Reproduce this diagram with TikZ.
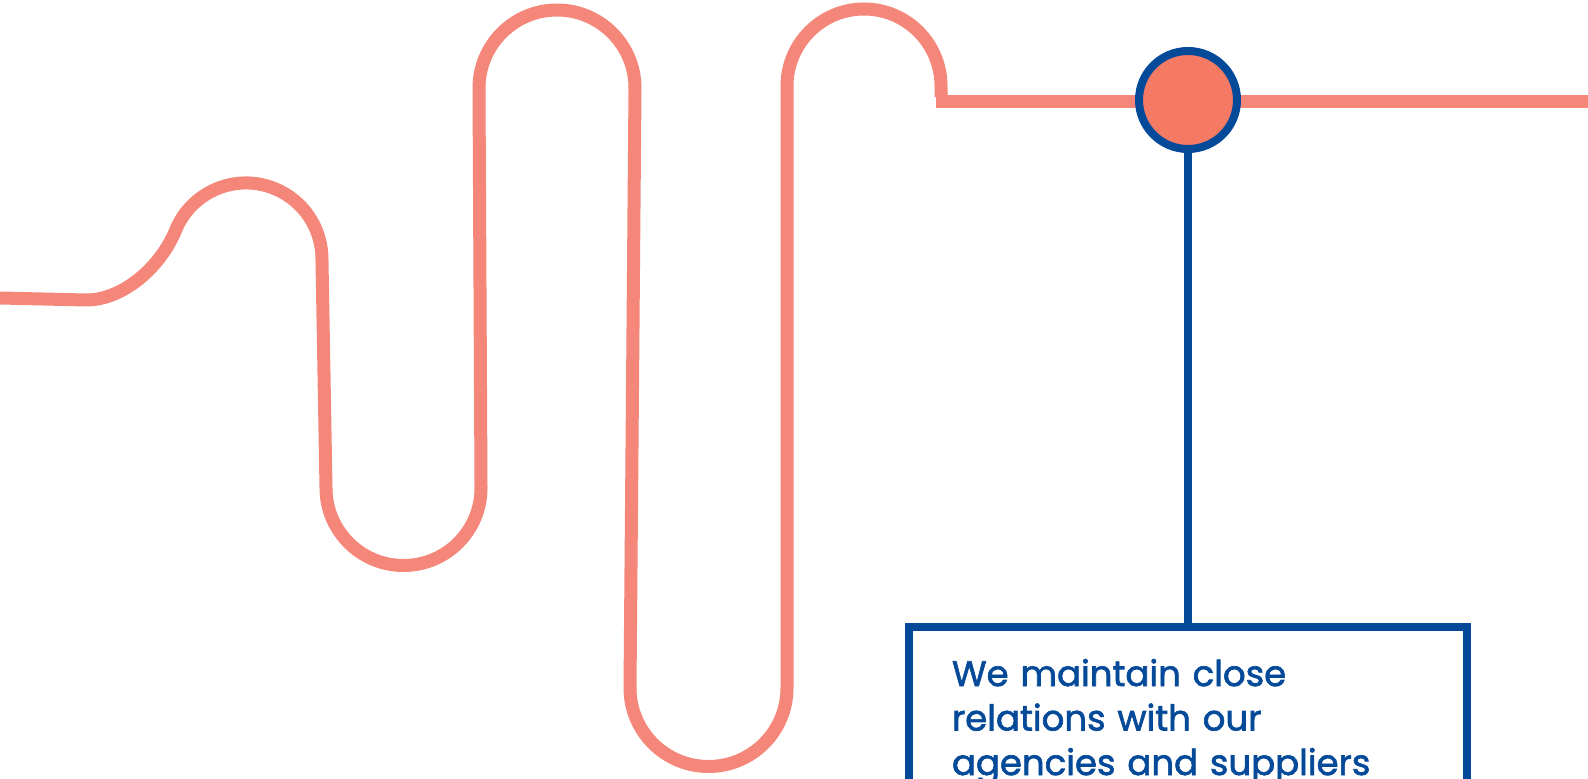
\documentclass[tikz,border=0pt]{standalone}
\usepackage{fontspec}
\usepackage{xcolor}
\usepackage{tikz}
\newfontfamily\notefont[FakeBold=1.8]{Poppins}
\definecolor{salmon}{HTML}{F4867A}
\definecolor{salmondark}{HTML}{F47A64}
\definecolor{navyblue}{HTML}{044A98}

\tikzset{
  road/.style={draw=salmon, line width=13pt},
  hubdot/.style={circle, draw=navyblue, fill=salmondark, line width=8pt,
                 minimum size=98pt, inner sep=0pt},
  notebox/.style={draw=navyblue, line width=8.5pt, anchor=north west,
                  outer sep=0pt, text width=472pt, inner xsep=43pt,
                  inner ysep=32pt, align=left, text=navyblue,
                  font=\notefont\fontsize{35.5pt}{44.5pt}\selectfont}
}

\begin{document}
\begin{tikzpicture}[x=1pt, y=1pt]
    \clip (0,0) rectangle (1588,-779);
    % winding line
    \draw[road] (0,-298) -- (86,-300)
      .. controls (124,-300) and (161,-266) .. (175.5,-230.5)
      arc[start angle=158, end angle=0, radius=76] -- (326,-488)
      arc[start angle=180, end angle=360, radius=77.5] -- (479,-88)
      arc[start angle=180, end angle=0, radius=78] -- (630,-688)
      arc[start angle=180, end angle=360, radius=78.5] -- (787,-86)
      arc[start angle=180, end angle=0, radius=77] -- (941,-97);
    \draw[road] (936,-101) -- (1588,-101);
    % milestone and note
    \node[hubdot] (hub) at (1188,-100) {};
    \node[notebox] (note) at (909,-627) {We maintain close\\
      relations with our\\
      agencies and suppliers};
    \draw[navyblue, line width=8pt] (hub) -- (hub |- note.north);
  \end{tikzpicture}
\end{document}
